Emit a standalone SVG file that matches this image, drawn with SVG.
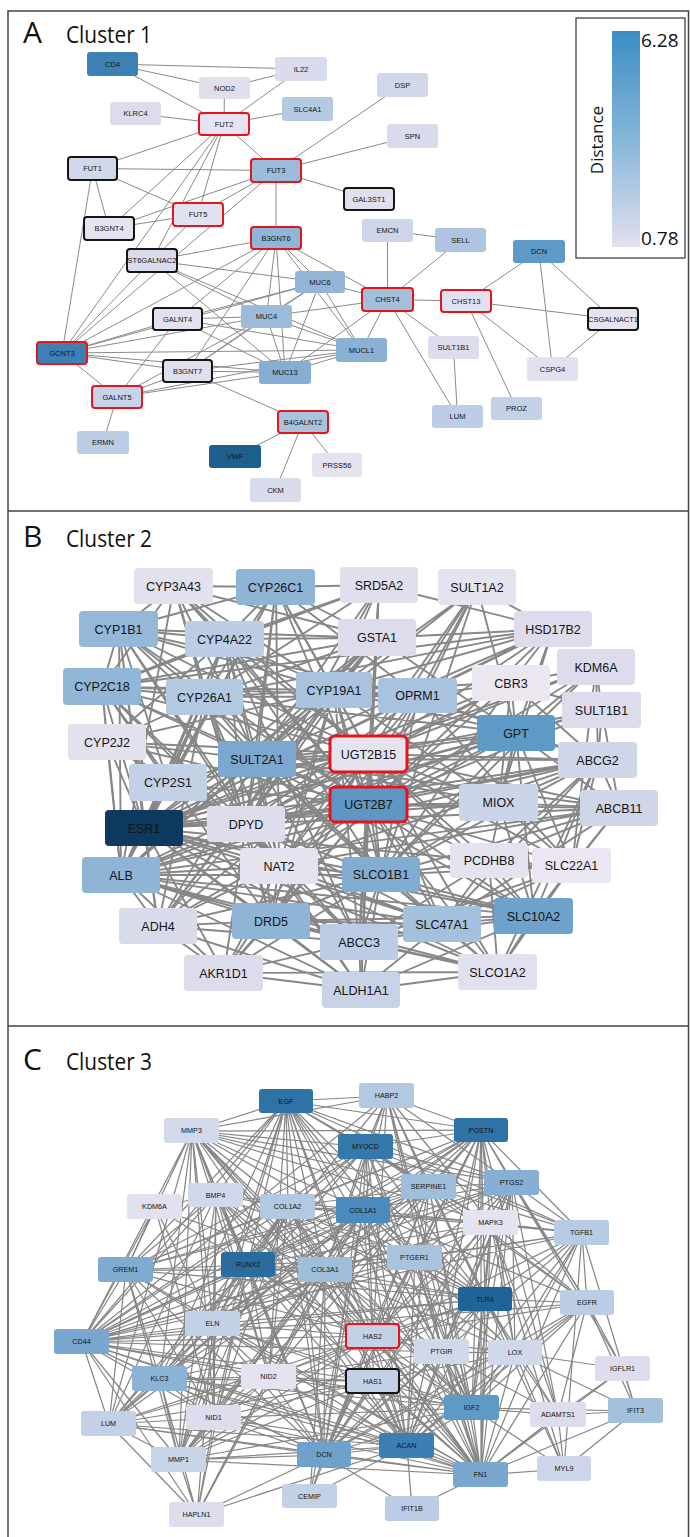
<svg xmlns="http://www.w3.org/2000/svg" width="690" height="1537" viewBox="0 0 690 1537">
<defs>
<linearGradient id="lg" x1="0" y1="0" x2="0" y2="1">
<stop offset="0" stop-color="#3a8ec4"/>
<stop offset="0.5" stop-color="#86b6d9"/>
<stop offset="1" stop-color="#e2e0ee"/>
</linearGradient>
<style>
.e{stroke:#8a8a8a;fill:none}
.ea{stroke-width:1}
.eb{stroke-width:1.9;stroke:#878787}
.ec{stroke-width:1.25;stroke:#878787}
.t{font-family:"Liberation Sans",Arial,sans-serif;fill:#141414;text-anchor:middle}
.ta{font-size:7.5px}
.tb{font-size:12.5px}
.tc{font-size:7.2px}
.red{stroke:#e8141b;stroke-width:2}
.blk{stroke:#151515;stroke-width:2}
.redb{stroke:#e8141b;stroke-width:3}
.ttl{font-family:"Open Sans","Liberation Sans",sans-serif;fill:#111}
.frame{stroke:#444;stroke-width:1.5;fill:none}
</style>
</defs>
<rect width="690" height="1537" fill="#fff"/>
<g id="frame">
<path class="frame" d="M8 1537V11H688.5V1537M8 511H688.5M8 1026H688.5"/>
</g>
<g id="titles">
<text class="ttl" x="23" y="43" font-size="30">A</text>
<text class="ttl" x="66" y="43" font-size="24" textLength="86" lengthAdjust="spacingAndGlyphs">Cluster 1</text>
<text class="ttl" x="23" y="547" font-size="30">B</text>
<text class="ttl" x="66" y="547" font-size="24" textLength="86" lengthAdjust="spacingAndGlyphs">Cluster 2</text>
<text class="ttl" x="23" y="1070" font-size="30">C</text>
<text class="ttl" x="66" y="1070" font-size="24" textLength="86" lengthAdjust="spacingAndGlyphs">Cluster 3</text>
</g>
<g id="legend">
<rect x="576" y="18" width="109" height="240" fill="#fff" stroke="#333" stroke-width="1.2"/>
<rect x="612" y="31" width="28" height="216" fill="url(#lg)"/>
<text class="ttl" x="641" y="47" font-size="19">6.28</text>
<text class="ttl" x="641" y="245" font-size="19">0.78</text>
<text class="ttl" x="603" y="140" font-size="17" text-anchor="middle" transform="rotate(-90 603 140)">Distance</text>
</g>
<g id="connectors">
<path class="e ea" d="M112.5 64L301 69M112.5 64L224.5 88M112.5 64L224 124M224.5 88L301 69M224.5 88L224 124M301 69L224 124M135.5 113.5L224 124M307.5 109L224 124M224 124L92.5 168.5M224 124L276 170.5M224 124L198 214.5M224 124L109 228.5M224 124L62 353M224 124L152 260.5M276 170.5L402.5 85M276 170.5L412.5 136M276 170.5L369 199M276 170.5L92.5 168.5M276 170.5L276 238M276 170.5L198 214.5M276 170.5L109 228.5M276 170.5L62 353M92.5 168.5L109 228.5M92.5 168.5L198 214.5M92.5 168.5L62 353M109 228.5L198 214.5M198 214.5L152 260.5M62 353L152 260.5M62 353L177.5 319M62 353L266.5 316.5M62 353L320 282M62 353L361.5 350M62 353L285 372.5M62 353L187.5 371M62 353L117 397M62 353L276 238M152 260.5L276 238M152 260.5L320 282M152 260.5L266.5 316.5M152 260.5L285 372.5M152 260.5L361.5 350M177.5 319L276 238M177.5 319L320 282M177.5 319L266.5 316.5M177.5 319L285 372.5M177.5 319L361.5 350M177.5 319L117 397M187.5 371L266.5 316.5M187.5 371L320 282M187.5 371L285 372.5M187.5 371L361.5 350M187.5 371L117 397M187.5 371L303 422M187.5 371L276 238M117 397L285 372.5M117 397L361.5 350M117 397L266.5 316.5M117 397L103 442.5M266.5 316.5L320 282M266.5 316.5L285 372.5M266.5 316.5L361.5 350M266.5 316.5L276 238M266.5 316.5L387.5 299.5M320 282L285 372.5M320 282L361.5 350M320 282L276 238M320 282L387.5 299.5M285 372.5L361.5 350M285 372.5L276 238M285 372.5L387.5 299.5M361.5 350L387.5 299.5M361.5 350L276 238M276 238L387.5 299.5M303 422L235 456.5M303 422L275.5 490M303 422L337 465M387.5 299.5L387.5 230.5M387.5 299.5L460.5 240M387.5 299.5L466 301M387.5 299.5L453.5 347.5M387.5 299.5L457.5 416.5M453.5 347.5L457.5 416.5M466 301L539 251.5M466 301L613 319M466 301L552.5 369M466 301L516.5 408.5M539 251.5L613 319M539 251.5L552.5 369M613 319L552.5 369M387.5 230.5L460.5 240"/>
<path class="e eb" d="M369 805L174 586M369 805L276 587M369 805L379 585M369 805L477 587M369 805L119 629M369 805L225 639M369 805L377 638M369 805L553 629M369 805L596 667M369 805L102 687M369 805L205 697M369 805L334 690M369 805L418 696M369 805L511 683M369 805L602 710M369 805L107 742M369 805L257 759M369 805L369 754M369 805L516 733M369 805L598 760M369 805L168 783M369 805L499 803M369 805L619 808M369 805L144 828M369 805L246 824M369 805L279 866M369 805L121 875M369 805L381 875M369 805L489 861M369 805L572 866M369 805L158 926M369 805L271 921M369 805L442 924M369 805L534 916M369 805L359 942M369 805L224 973M369 805L361 990M369 805L498 972"/>
<path class="e eb" d="M369 754L174 586M369 754L276 587M369 754L379 585M369 754L477 587M369 754L119 629M369 754L225 639M369 754L377 638M369 754L553 629M369 754L596 667M369 754L102 687M369 754L205 697M369 754L334 690M369 754L418 696M369 754L511 683M369 754L602 710M369 754L107 742M369 754L257 759M369 754L516 733M369 754L598 760M369 754L168 783M369 754L499 803M369 754L619 808M369 754L144 828M369 754L246 824M369 754L279 866M369 754L121 875M369 754L381 875M369 754L489 861M369 754L572 866M369 754L158 926M369 754L271 921M369 754L442 924M369 754L534 916M369 754L359 942M369 754L224 973M369 754L361 990M369 754L498 972"/>
<path class="e eb" d="M174 586L276 587M174 586L119 629M174 586L225 639M174 586L205 697M174 586L102 687M174 586L334 690M174 586L257 759M174 586L246 824M174 586L121 875M174 586L377 638M276 587L379 585M276 587L119 629M276 587L225 639M276 587L205 697M276 587L334 690M276 587L257 759M276 587L377 638M276 587L246 824M276 587L279 866M276 587L168 783M276 587L418 696M276 587L121 875M379 585L553 629M379 585L377 638M379 585L225 639M379 585L205 697M379 585L257 759M379 585L334 690M379 585L102 687M379 585L246 824M477 587L553 629M477 587L257 759M477 587L381 875M477 587L334 690M477 587L418 696M477 587L279 866M477 587L516 733"/>
<path class="e eb" d="M119 629L225 639M119 629L102 687M119 629L205 697M119 629L334 690M119 629L377 638M119 629L257 759M119 629L144 828M119 629L121 875M119 629L246 824M119 629L168 783M119 629L279 866M119 629L158 926M119 629L418 696M225 639L102 687M225 639L205 697M225 639L334 690M225 639L377 638M225 639L257 759M225 639L144 828M225 639L246 824M225 639L107 742M225 639L121 875M225 639L279 866M225 639L381 875M225 639L359 942M377 638L553 629M377 638L334 690M377 638L257 759M377 638L144 828M377 638L246 824M377 638L102 687M377 638L205 697M377 638L121 875M377 638L158 926M377 638L516 733M553 629L511 683M553 629L516 733M553 629L257 759M553 629L334 690M553 629L418 696M553 629L144 828M553 629L205 697M553 629L102 687M553 629L499 803M596 667L602 710M596 667L511 683M596 667L516 733M596 667L598 760M596 667L381 875M596 667L572 866M596 667L144 828"/>
<path class="e eb" d="M102 687L205 697M102 687L107 742M102 687L334 690M102 687L257 759M102 687L144 828M102 687L246 824M102 687L121 875M102 687L168 783M102 687L279 866M102 687L271 921M102 687L418 696M205 697L334 690M205 697L257 759M205 697L144 828M205 697L246 824M205 697L121 875M205 697L107 742M205 697L279 866M205 697L158 926M205 697L271 921M205 697L381 875M205 697L168 783M205 697L418 696M205 697L516 733M334 690L257 759M334 690L144 828M334 690L246 824M334 690L279 866M334 690L121 875M334 690L418 696M334 690L381 875M334 690L271 921M334 690L359 942M334 690L516 733M334 690L499 803M334 690L158 926M334 690L107 742M334 690L511 683M418 696L271 921M418 696L381 875M418 696L516 733M418 696L511 683M418 696L144 828M418 696L572 866M418 696L598 760M418 696L246 824M511 683L516 733M511 683L602 710M511 683L598 760M511 683L144 828M511 683L381 875M511 683L499 803M511 683L246 824M602 710L516 733M602 710L598 760M602 710L144 828M602 710L619 808"/>
<path class="e eb" d="M107 742L257 759M107 742L144 828M107 742L121 875M107 742L168 783M107 742L246 824M257 759L144 828M257 759L246 824M257 759L279 866M257 759L121 875M257 759L381 875M257 759L516 733M257 759L598 760M257 759L499 803M257 759L619 808M257 759L271 921M257 759L158 926M257 759L442 924M257 759L534 916M257 759L359 942M257 759L168 783M516 733L598 760M516 733L499 803M516 733L144 828M516 733L381 875M516 733L619 808M516 733L572 866M516 733L534 916M516 733L121 875M516 733L246 824M516 733L489 861M516 733L279 866M598 760L619 808M598 760L144 828M598 760L499 803M598 760L381 875M598 760L572 866M598 760L534 916M598 760L489 861M598 760L442 924M598 760L498 972M598 760L121 875M598 760L279 866M598 760L246 824M168 783L144 828M168 783L246 824M168 783L121 875M499 803L619 808M499 803L381 875M499 803L572 866M499 803L534 916M499 803L144 828"/>
<path class="e eb" d="M619 808L572 866M619 808L534 916M619 808L381 875M619 808L442 924M619 808L144 828M619 808L489 861M619 808L246 824M619 808L121 875M619 808L279 866M144 828L246 824M144 828L121 875M144 828L279 866M144 828L381 875M144 828L158 926M144 828L271 921M144 828L224 973M144 828L359 942M144 828L442 924M144 828L489 861M144 828L361 990M144 828L498 972M144 828L534 916M246 824L279 866M246 824L121 875M246 824L381 875M246 824L158 926M246 824L271 921M246 824L224 973M246 824L359 942M246 824L361 990M246 824L442 924M279 866L121 875M279 866L381 875M279 866L158 926M279 866L271 921M279 866L224 973M279 866L442 924M279 866L359 942M279 866L361 990M279 866L534 916M279 866L498 972M121 875L158 926M121 875L271 921M121 875L381 875M121 875L224 973M121 875L359 942M121 875L361 990M121 875L442 924M121 875L534 916M121 875L498 972"/>
<path class="e eb" d="M381 875L442 924M381 875L534 916M381 875L359 942M381 875L361 990M381 875L498 972M381 875L489 861M381 875L572 866M381 875L271 921M381 875L224 973M381 875L158 926M489 861L572 866M489 861L534 916M489 861L442 924M489 861L498 972M489 861L359 942M572 866L534 916M572 866L442 924M572 866L498 972M572 866L359 942M158 926L271 921M158 926L224 973M158 926L359 942M158 926L361 990M271 921L224 973M271 921L359 942M271 921L361 990M271 921L442 924M271 921L534 916M271 921L498 972M442 924L534 916M442 924L498 972M442 924L359 942M442 924L361 990M534 916L498 972M534 916L359 942M534 916L361 990M359 942L224 973M359 942L361 990M359 942L498 972M224 973L361 990M224 973L498 972M361 990L498 972"/>
<path class="e ec" d="M481 1475L286 1101M481 1475L387 1096M481 1475L192 1131M481 1475L481 1130M481 1475L366 1147M481 1475L429 1187M481 1475L512 1183M481 1475L216 1195M481 1475L288 1207M481 1475L363 1210M481 1475L491 1223M481 1475L582 1233M481 1475L415 1258M481 1475L248 1265M481 1475L325 1270M481 1475L485 1299M481 1475L587 1303M481 1475L213 1324M481 1475L373 1336M481 1475L82 1342M481 1475L442 1352M481 1475L515 1353M481 1475L623 1369M481 1475L160 1379M481 1475L269 1377M481 1475L373 1381M481 1475L472 1408M481 1475L558 1415M481 1475L636 1411M481 1475L214 1418M481 1475L109 1424M481 1475L407 1446M481 1475L324 1455M481 1475L179 1460M481 1475L564 1469M481 1475L412 1509M481 1475L126 1270"/>
<path class="e ec" d="M286 1101L192 1131M286 1101L387 1096M286 1101L481 1130M286 1101L366 1147M286 1101L429 1187M286 1101L512 1183M286 1101L216 1195M286 1101L288 1207M286 1101L363 1210M286 1101L491 1223M286 1101L582 1233M286 1101L248 1265M286 1101L325 1270M286 1101L485 1299M286 1101L213 1324M286 1101L373 1336M286 1101L82 1342M286 1101L160 1379M286 1101L269 1377M286 1101L472 1408M286 1101L324 1455M286 1101L407 1446M286 1101L179 1460M286 1101L126 1270M286 1101L415 1258"/>
<path class="e ec" d="M192 1131L481 1130M192 1131L366 1147M192 1131L387 1096M192 1131L429 1187M192 1131L216 1195M192 1131L288 1207M192 1131L363 1210M192 1131L248 1265M192 1131L325 1270M192 1131L485 1299M192 1131L213 1324M192 1131L373 1336M192 1131L82 1342M192 1131L160 1379M192 1131L269 1377M192 1131L214 1418M192 1131L472 1408M192 1131L324 1455M192 1131L407 1446M192 1131L179 1460M192 1131L126 1270M192 1131L512 1183M192 1131L491 1223M192 1131L109 1424"/>
<path class="e ec" d="M481 1130L387 1096M481 1130L366 1147M481 1130L429 1187M481 1130L512 1183M481 1130L288 1207M481 1130L363 1210M481 1130L491 1223M481 1130L582 1233M481 1130L415 1258M481 1130L248 1265M481 1130L325 1270M481 1130L485 1299M481 1130L587 1303M481 1130L213 1324M481 1130L373 1336M481 1130L82 1342M481 1130L442 1352M481 1130L515 1353M481 1130L269 1377M481 1130L472 1408M481 1130L324 1455M481 1130L407 1446M481 1130L179 1460M481 1130L126 1270M481 1130L558 1415"/>
<path class="e ec" d="M387 1096L366 1147M387 1096L363 1210M387 1096L429 1187M387 1096L512 1183M387 1096L491 1223M387 1096L485 1299M387 1096L373 1336M387 1096L442 1352M387 1096L472 1408M387 1096L82 1342M387 1096L248 1265M387 1096L325 1270M366 1147L429 1187M366 1147L363 1210M366 1147L288 1207M366 1147L248 1265M366 1147L325 1270M366 1147L512 1183M366 1147L491 1223M366 1147L485 1299M366 1147L373 1336M366 1147L213 1324M366 1147L82 1342M366 1147L126 1270M366 1147L324 1455M366 1147L407 1446M366 1147L472 1408M366 1147L587 1303M366 1147L582 1233"/>
<path class="e ec" d="M429 1187L512 1183M429 1187L363 1210M429 1187L288 1207M429 1187L491 1223M429 1187L582 1233M429 1187L415 1258M429 1187L248 1265M429 1187L325 1270M429 1187L485 1299M429 1187L587 1303M429 1187L373 1336M429 1187L213 1324M429 1187L82 1342M429 1187L515 1353M429 1187L324 1455M429 1187L407 1446M429 1187L472 1408M429 1187L126 1270M512 1183L363 1210M512 1183L491 1223M512 1183L582 1233M512 1183L415 1258M512 1183L485 1299M512 1183L587 1303M512 1183L515 1353M512 1183L442 1352M512 1183L373 1336M512 1183L472 1408M512 1183L558 1415M512 1183L324 1455M512 1183L407 1446M512 1183L248 1265M512 1183L325 1270M512 1183L82 1342M512 1183L623 1369"/>
<path class="e ec" d="M216 1195L155 1207M216 1195L288 1207M216 1195L363 1210M216 1195L248 1265M216 1195L325 1270M216 1195L126 1270M216 1195L213 1324M216 1195L82 1342M216 1195L269 1377M216 1195L214 1418M216 1195L324 1455M216 1195L407 1446M216 1195L179 1460M216 1195L373 1336M216 1195L485 1299M216 1195L109 1424M155 1207L126 1270M155 1207L82 1342M155 1207L248 1265M155 1207L214 1418M155 1207L213 1324M155 1207L325 1270"/>
<path class="e ec" d="M288 1207L363 1210M288 1207L248 1265M288 1207L325 1270M288 1207L491 1223M288 1207L582 1233M288 1207L415 1258M288 1207L485 1299M288 1207L213 1324M288 1207L373 1336M288 1207L82 1342M288 1207L269 1377M288 1207L214 1418M288 1207L324 1455M288 1207L407 1446M288 1207L179 1460M288 1207L472 1408M288 1207L515 1353M288 1207L126 1270M288 1207L160 1379M288 1207L109 1424M363 1210L491 1223M363 1210L582 1233M363 1210L415 1258M363 1210L248 1265M363 1210L325 1270M363 1210L485 1299M363 1210L587 1303M363 1210L213 1324M363 1210L373 1336M363 1210L82 1342M363 1210L442 1352M363 1210L515 1353M363 1210L269 1377M363 1210L214 1418M363 1210L472 1408M363 1210L324 1455M363 1210L407 1446M363 1210L179 1460M363 1210L160 1379M363 1210L109 1424M363 1210L126 1270M363 1210L197 1515M363 1210L310 1496"/>
<path class="e ec" d="M491 1223L582 1233M491 1223L415 1258M491 1223L485 1299M491 1223L587 1303M491 1223L442 1352M491 1223L515 1353M491 1223L373 1336M491 1223L472 1408M491 1223L324 1455M491 1223L407 1446M491 1223L248 1265M491 1223L325 1270M491 1223L82 1342M491 1223L564 1469M491 1223L558 1415M582 1233L485 1299M582 1233L587 1303M582 1233L515 1353M582 1233L472 1408M582 1233L324 1455M582 1233L407 1446M582 1233L325 1270M582 1233L415 1258M582 1233L636 1411M582 1233L373 1336M582 1233L82 1342M582 1233L564 1469M415 1258L485 1299M415 1258L442 1352M415 1258L373 1336M415 1258L472 1408M415 1258L325 1270M415 1258L248 1265M415 1258L324 1455M415 1258L407 1446M415 1258L515 1353M415 1258L213 1324M415 1258L82 1342"/>
<path class="e ec" d="M126 1270L248 1265M126 1270L325 1270M126 1270L82 1342M126 1270L213 1324M126 1270L160 1379M126 1270L214 1418M126 1270L109 1424M126 1270L324 1455M126 1270L373 1336M126 1270L485 1299M126 1270L179 1460M248 1265L325 1270M248 1265L485 1299M248 1265L213 1324M248 1265L373 1336M248 1265L82 1342M248 1265L160 1379M248 1265L269 1377M248 1265L214 1418M248 1265L324 1455M248 1265L407 1446M248 1265L179 1460M248 1265L109 1424M248 1265L472 1408M248 1265L197 1515M325 1270L485 1299M325 1270L213 1324M325 1270L373 1336M325 1270L82 1342M325 1270L160 1379M325 1270L269 1377M325 1270L214 1418M325 1270L324 1455M325 1270L407 1446M325 1270L179 1460M325 1270L472 1408M325 1270L109 1424M325 1270L197 1515M325 1270L310 1496M325 1270L515 1353M325 1270L442 1352"/>
<path class="e ec" d="M485 1299L587 1303M485 1299L373 1336M485 1299L442 1352M485 1299L515 1353M485 1299L472 1408M485 1299L407 1446M485 1299L324 1455M485 1299L82 1342M485 1299L213 1324M485 1299L269 1377M485 1299L179 1460M485 1299L558 1415M485 1299L564 1469M587 1303L515 1353M587 1303L472 1408M587 1303L558 1415M587 1303L636 1411M587 1303L324 1455M587 1303L407 1446M587 1303L373 1336M587 1303L82 1342M587 1303L623 1369M213 1324L82 1342M213 1324L160 1379M213 1324L269 1377M213 1324L214 1418M213 1324L373 1336M213 1324L324 1455M213 1324L407 1446M213 1324L179 1460M213 1324L109 1424M213 1324L197 1515M213 1324L472 1408M213 1324L373 1381"/>
<path class="e ec" d="M373 1336L82 1342M373 1336L442 1352M373 1336L515 1353M373 1336L373 1381M373 1336L472 1408M373 1336L324 1455M373 1336L407 1446M373 1336L269 1377M373 1336L214 1418M373 1336L160 1379M373 1336L179 1460M373 1336L109 1424M373 1336L310 1496M82 1342L160 1379M82 1342L269 1377M82 1342L214 1418M82 1342L109 1424M82 1342L324 1455M82 1342L407 1446M82 1342L179 1460M82 1342L373 1381M82 1342L197 1515M82 1342L472 1408M82 1342L442 1352M442 1352L515 1353M442 1352L472 1408M442 1352L407 1446M442 1352L324 1455M442 1352L373 1381M442 1352L269 1377M442 1352L558 1415M515 1353L623 1369M515 1353L472 1408M515 1353L558 1415M515 1353L636 1411M515 1353L324 1455M515 1353L407 1446M515 1353L564 1469M515 1353L373 1381M623 1369L636 1411M623 1369L558 1415"/>
<path class="e ec" d="M160 1379L269 1377M160 1379L214 1418M160 1379L109 1424M160 1379L324 1455M160 1379L407 1446M160 1379L179 1460M160 1379L373 1381M160 1379L472 1408M160 1379L197 1515M269 1377L214 1418M269 1377L324 1455M269 1377L407 1446M269 1377L373 1381M269 1377L179 1460M269 1377L472 1408M269 1377L109 1424M269 1377L197 1515M373 1381L472 1408M373 1381L324 1455M373 1381L407 1446M373 1381L214 1418M373 1381L179 1460M373 1381L109 1424M472 1408L324 1455M472 1408L407 1446M472 1408L558 1415M472 1408L214 1418M472 1408L179 1460M472 1408L564 1469M472 1408L636 1411M558 1415L636 1411M558 1415L564 1469M636 1411L564 1469M214 1418L109 1424M214 1418L179 1460M214 1418L324 1455M214 1418L407 1446M214 1418L197 1515M109 1424L179 1460M109 1424L197 1515M109 1424L324 1455M109 1424L407 1446M407 1446L324 1455M407 1446L412 1509M407 1446L179 1460M407 1446L197 1515M407 1446L310 1496M324 1455L179 1460M324 1455L310 1496M324 1455L197 1515M324 1455L412 1509M179 1460L197 1515"/>
</g>
<g id="nodes-a">
<g id="a-CD4"><rect x="87" y="52" width="51" height="24" rx="3" fill="#3d80b3"/><text class="t ta" x="112.5" y="66.7">CD4</text></g>
<g id="a-IL22"><rect x="275" y="57" width="52" height="24" rx="3" fill="#d9dcec"/><text class="t ta" x="301" y="71.7">IL22</text></g>
<g id="a-NOD2"><rect x="199" y="77" width="51" height="22" rx="3" fill="#dfdfee"/><text class="t ta" x="224.5" y="90.7">NOD2</text></g>
<g id="a-KLRC4"><rect x="110" y="102" width="51" height="23" rx="3" fill="#dcdcec"/><text class="t ta" x="135.5" y="116.2">KLRC4</text></g>
<g id="a-SLC4A1"><rect x="282" y="97" width="51" height="24" rx="3" fill="#b4c9e2"/><text class="t ta" x="307.5" y="111.7">SLC4A1</text></g>
<g id="a-FUT2"><rect class="red" x="199" y="113" width="50" height="22" rx="3" fill="#e6e4f0"/><text class="t ta" x="224" y="126.7">FUT2</text></g>
<g id="a-DSP"><rect x="377" y="73" width="51" height="24" rx="3" fill="#d2d8ea"/><text class="t ta" x="402.5" y="87.7">DSP</text></g>
<g id="a-SPN"><rect x="387" y="124" width="51" height="24" rx="3" fill="#d7dbeb"/><text class="t ta" x="412.5" y="138.7">SPN</text></g>
<g id="a-FUT1"><rect class="blk" x="68" y="157" width="49" height="23" rx="3" fill="#d0d8ea"/><text class="t ta" x="92.5" y="171.2">FUT1</text></g>
<g id="a-FUT3"><rect class="red" x="251" y="159" width="50" height="23" rx="3" fill="#9bbcdb"/><text class="t ta" x="276" y="173.2">FUT3</text></g>
<g id="a-GAL3ST1"><rect class="blk" x="344" y="188" width="50" height="22" rx="3" fill="#e0dfee"/><text class="t ta" x="369" y="201.7">GAL3ST1</text></g>
<g id="a-FUT5"><rect class="red" x="173" y="203" width="50" height="23" rx="3" fill="#e2e1ef"/><text class="t ta" x="198" y="217.2">FUT5</text></g>
<g id="a-B3GNT4"><rect class="blk" x="84" y="217" width="50" height="23" rx="3" fill="#e4e3ef"/><text class="t ta" x="109" y="231.2">B3GNT4</text></g>
<g id="a-EMCN"><rect x="362" y="219" width="51" height="23" rx="3" fill="#cdd6e9"/><text class="t ta" x="387.5" y="233.2">EMCN</text></g>
<g id="a-SELL"><rect x="435" y="228" width="51" height="24" rx="3" fill="#adc5e0"/><text class="t ta" x="460.5" y="242.7">SELL</text></g>
<g id="a-B3GNT6"><rect class="red" x="251" y="227" width="50" height="22" rx="3" fill="#8fb5d8"/><text class="t ta" x="276" y="240.7">B3GNT6</text></g>
<g id="a-DCN"><rect x="513" y="240" width="52" height="23" rx="3" fill="#5e9ac8"/><text class="t ta" x="539" y="254.2">DCN</text></g>
<g id="a-ST6GALNAC2"><rect class="blk" x="127" y="249" width="50" height="23" rx="3" fill="#d8dbeb"/><text class="t ta" x="152" y="263.2">ST6GALNAC2</text></g>
<g id="a-MUC6"><rect x="295" y="271" width="50" height="22" rx="3" fill="#93b6d8"/><text class="t ta" x="320" y="284.7">MUC6</text></g>
<g id="a-CHST4"><rect class="red" x="362" y="288" width="51" height="23" rx="3" fill="#a2bfdc"/><text class="t ta" x="387.5" y="302.2">CHST4</text></g>
<g id="a-CHST13"><rect class="red" x="441" y="290" width="50" height="22" rx="3" fill="#e2e1ef"/><text class="t ta" x="466" y="303.7">CHST13</text></g>
<g id="a-GALNT4"><rect class="blk" x="153" y="308" width="49" height="22" rx="3" fill="#e2e1ef"/><text class="t ta" x="177.5" y="321.7">GALNT4</text></g>
<g id="a-MUC4"><rect x="241" y="305" width="51" height="23" rx="3" fill="#9cbbda"/><text class="t ta" x="266.5" y="319.2">MUC4</text></g>
<g id="a-CSGALNACT1"><rect class="blk" x="588" y="308" width="50" height="22" rx="3" fill="#e4e3ef"/><text class="t ta" x="613" y="321.7">CSGALNACT1</text></g>
<g id="a-MUCL1"><rect x="336" y="338" width="51" height="24" rx="3" fill="#8ab0d4"/><text class="t ta" x="361.5" y="352.7">MUCL1</text></g>
<g id="a-SULT1B1"><rect x="428" y="336" width="51" height="23" rx="3" fill="#dcdcec"/><text class="t ta" x="453.5" y="350.2">SULT1B1</text></g>
<g id="a-GCNT3"><rect class="red" x="37" y="342" width="50" height="22" rx="3" fill="#3f80b4"/><text class="t ta" x="62" y="355.7">GCNT3</text></g>
<g id="a-B3GNT7"><rect class="blk" x="163" y="360" width="49" height="22" rx="3" fill="#dfdfee"/><text class="t ta" x="187.5" y="373.7">B3GNT7</text></g>
<g id="a-MUC13"><rect x="259" y="361" width="52" height="23" rx="3" fill="#86add3"/><text class="t ta" x="285" y="375.2">MUC13</text></g>
<g id="a-CSPG4"><rect x="527" y="357" width="51" height="24" rx="3" fill="#e2e1ef"/><text class="t ta" x="552.5" y="371.7">CSPG4</text></g>
<g id="a-GALNT5"><rect class="red" x="92" y="386" width="50" height="22" rx="3" fill="#c7d3e8"/><text class="t ta" x="117" y="399.7">GALNT5</text></g>
<g id="a-PROZ"><rect x="491" y="397" width="51" height="23" rx="3" fill="#c3d1e6"/><text class="t ta" x="516.5" y="411.2">PROZ</text></g>
<g id="a-LUM"><rect x="432" y="405" width="51" height="23" rx="3" fill="#bccde5"/><text class="t ta" x="457.5" y="419.2">LUM</text></g>
<g id="a-B4GALNT2"><rect class="red" x="278" y="411" width="50" height="22" rx="3" fill="#a8c3de"/><text class="t ta" x="303" y="424.7">B4GALNT2</text></g>
<g id="a-ERMN"><rect x="77" y="431" width="52" height="23" rx="3" fill="#bccde5"/><text class="t ta" x="103" y="445.2">ERMN</text></g>
<g id="a-VWF"><rect x="209" y="445" width="52" height="23" rx="3" fill="#1f5f8f"/><text class="t ta" x="235" y="459.2">VWF</text></g>
<g id="a-PRSS56"><rect x="312" y="453" width="50" height="24" rx="3" fill="#e4e3ef"/><text class="t ta" x="337" y="467.7">PRSS56</text></g>
<g id="a-CKM"><rect x="250" y="478" width="51" height="24" rx="3" fill="#d8dbeb"/><text class="t ta" x="275.5" y="492.7">CKM</text></g>
</g>
<g id="nodes-b">
<g id="b-CYP3A43"><rect x="134" y="568" width="79" height="36" rx="4" fill="#e2e1ee"/><text class="t tb" x="173.5" y="590.5">CYP3A43</text></g>
<g id="b-CYP26C1"><rect x="236" y="569" width="79" height="36" rx="4" fill="#8fb4d6"/><text class="t tb" x="275.5" y="591.5">CYP26C1</text></g>
<g id="b-SRD5A2"><rect x="340" y="567" width="78" height="36" rx="4" fill="#e0dfee"/><text class="t tb" x="379" y="589.5">SRD5A2</text></g>
<g id="b-SULT1A2"><rect x="438" y="569" width="78" height="36" rx="4" fill="#e4e3ef"/><text class="t tb" x="477" y="591.5">SULT1A2</text></g>
<g id="b-CYP1B1"><rect x="79" y="611" width="79" height="36" rx="4" fill="#96b8d8"/><text class="t tb" x="118.5" y="633.5">CYP1B1</text></g>
<g id="b-CYP4A22"><rect x="185" y="621" width="79" height="36" rx="4" fill="#bccde5"/><text class="t tb" x="224.5" y="643.5">CYP4A22</text></g>
<g id="b-GSTA1"><rect x="338" y="619" width="78" height="37" rx="4" fill="#dcdcec"/><text class="t tb" x="377" y="642">GSTA1</text></g>
<g id="b-HSD17B2"><rect x="514" y="611" width="78" height="36" rx="4" fill="#dcdcec"/><text class="t tb" x="553" y="633.5">HSD17B2</text></g>
<g id="b-KDM6A"><rect x="557" y="649" width="78" height="36" rx="4" fill="#dcdcec"/><text class="t tb" x="596" y="671.5">KDM6A</text></g>
<g id="b-CYP2C18"><rect x="63" y="668" width="78" height="37" rx="4" fill="#92b6d7"/><text class="t tb" x="102" y="691">CYP2C18</text></g>
<g id="b-CYP26A1"><rect x="166" y="679" width="77" height="36" rx="4" fill="#b3c8e1"/><text class="t tb" x="204.5" y="701.5">CYP26A1</text></g>
<g id="b-CYP19A1"><rect x="296" y="672" width="76" height="36" rx="4" fill="#a9c3de"/><text class="t tb" x="334" y="694.5">CYP19A1</text></g>
<g id="b-OPRM1"><rect x="378" y="678" width="79" height="35" rx="4" fill="#a9c3de"/><text class="t tb" x="417.5" y="700">OPRM1</text></g>
<g id="b-CBR3"><rect x="472" y="665" width="78" height="36" rx="4" fill="#ece6f1"/><text class="t tb" x="511" y="687.5">CBR3</text></g>
<g id="b-SULT1B1"><rect x="562" y="692" width="79" height="36" rx="4" fill="#dcdcec"/><text class="t tb" x="601.5" y="714.5">SULT1B1</text></g>
<g id="b-CYP2J2"><rect x="68" y="724" width="78" height="36" rx="4" fill="#e2e1ee"/><text class="t tb" x="107" y="746.5">CYP2J2</text></g>
<g id="b-SULT2A1"><rect x="218" y="741" width="78" height="36" rx="4" fill="#7ca8cf"/><text class="t tb" x="257" y="763.5">SULT2A1</text></g>
<g id="b-UGT2B15"><rect class="redb" x="330" y="736" width="77" height="36" rx="5" fill="#e4e3ef"/><text class="t tb" x="368.5" y="758.5">UGT2B15</text></g>
<g id="b-GPT"><rect x="477" y="715" width="78" height="36" rx="4" fill="#5e9ac6"/><text class="t tb" x="516" y="737.5">GPT</text></g>
<g id="b-ABCG2"><rect x="558" y="742" width="79" height="36" rx="4" fill="#cfd6e8"/><text class="t tb" x="597.5" y="764.5">ABCG2</text></g>
<g id="b-CYP2S1"><rect x="129" y="764" width="78" height="37" rx="4" fill="#c3d1e6"/><text class="t tb" x="168" y="787">CYP2S1</text></g>
<g id="b-UGT2B7"><rect class="redb" x="330" y="787" width="77" height="35" rx="5" fill="#5f97c4"/><text class="t tb" x="368.5" y="809">UGT2B7</text></g>
<g id="b-MIOX"><rect x="459" y="784" width="79" height="37" rx="4" fill="#ccd5e8"/><text class="t tb" x="498.5" y="807">MIOX</text></g>
<g id="b-ABCB11"><rect x="580" y="790" width="78" height="36" rx="4" fill="#cfd6e7"/><text class="t tb" x="619" y="812.5">ABCB11</text></g>
<g id="b-ESR1"><rect x="105" y="810" width="78" height="36" rx="4" fill="#0e3a5f"/><text class="t tb" x="144" y="832.5">ESR1</text></g>
<g id="b-DPYD"><rect x="207" y="806" width="78" height="36" rx="4" fill="#dedded"/><text class="t tb" x="246" y="828.5">DPYD</text></g>
<g id="b-NAT2"><rect x="240" y="848" width="78" height="36" rx="4" fill="#e4e3ef"/><text class="t tb" x="279" y="870.5">NAT2</text></g>
<g id="b-ALB"><rect x="82" y="857" width="78" height="36" rx="4" fill="#8fb4d6"/><text class="t tb" x="121" y="879.5">ALB</text></g>
<g id="b-SLCO1B1"><rect x="342" y="857" width="78" height="35" rx="4" fill="#83acd2"/><text class="t tb" x="381" y="879">SLCO1B1</text></g>
<g id="b-PCDHB8"><rect x="450" y="843" width="78" height="35" rx="4" fill="#e4e3ef"/><text class="t tb" x="489" y="865">PCDHB8</text></g>
<g id="b-SLC22A1"><rect x="532" y="848" width="79" height="35" rx="4" fill="#ebe6f1"/><text class="t tb" x="571.5" y="870">SLC22A1</text></g>
<g id="b-ADH4"><rect x="119" y="908" width="78" height="36" rx="4" fill="#d8dbea"/><text class="t tb" x="158" y="930.5">ADH4</text></g>
<g id="b-DRD5"><rect x="232" y="903" width="78" height="36" rx="4" fill="#8fb4d6"/><text class="t tb" x="271" y="925.5">DRD5</text></g>
<g id="b-SLC47A1"><rect x="403" y="906" width="78" height="36" rx="4" fill="#a3c0dd"/><text class="t tb" x="442" y="928.5">SLC47A1</text></g>
<g id="b-SLC10A2"><rect x="494" y="898" width="79" height="36" rx="4" fill="#6ea2cc"/><text class="t tb" x="533.5" y="920.5">SLC10A2</text></g>
<g id="b-ABCC3"><rect x="320" y="924" width="78" height="36" rx="4" fill="#bccce4"/><text class="t tb" x="359" y="946.5">ABCC3</text></g>
<g id="b-AKR1D1"><rect x="184" y="955" width="79" height="36" rx="4" fill="#dcdcec"/><text class="t tb" x="223.5" y="977.5">AKR1D1</text></g>
<g id="b-ALDH1A1"><rect x="322" y="972" width="78" height="36" rx="4" fill="#c9d3e7"/><text class="t tb" x="361" y="994.5">ALDH1A1</text></g>
<g id="b-SLCO1A2"><rect x="458" y="954" width="79" height="36" rx="4" fill="#e1e0ee"/><text class="t tb" x="497.5" y="976.5">SLCO1A2</text></g>
</g>
<g id="nodes-c">
<g id="c-EGF"><rect x="259" y="1089" width="54" height="24" rx="3" fill="#2f72a5"/><text class="t tc" x="286" y="1103.6">EGF</text></g>
<g id="c-HABP2"><rect x="359" y="1083" width="55" height="25" rx="3" fill="#b3c8e1"/><text class="t tc" x="386.5" y="1098.1">HABP2</text></g>
<g id="c-MMP3"><rect x="164" y="1118" width="55" height="25" rx="3" fill="#d3d9eb"/><text class="t tc" x="191.5" y="1133.1">MMP3</text></g>
<g id="c-POSTN"><rect x="454" y="1118" width="54" height="24" rx="3" fill="#2f73a6"/><text class="t tc" x="481" y="1132.6">POSTN</text></g>
<g id="c-MYOCD"><rect x="338" y="1134" width="55" height="25" rx="3" fill="#3578aa"/><text class="t tc" x="365.5" y="1149.1">MYOCD</text></g>
<g id="c-SERPINE1"><rect x="401" y="1174" width="55" height="25" rx="3" fill="#9fbedc"/><text class="t tc" x="428.5" y="1189.1">SERPINE1</text></g>
<g id="c-PTGS2"><rect x="484" y="1170" width="55" height="25" rx="3" fill="#86afd4"/><text class="t tc" x="511.5" y="1185.1">PTGS2</text></g>
<g id="c-BMP4"><rect x="188" y="1183" width="55" height="24" rx="3" fill="#d0d8ea"/><text class="t tc" x="215.5" y="1197.6">BMP4</text></g>
<g id="c-KDM6A"><rect x="127" y="1194" width="55" height="25" rx="3" fill="#e2e1ef"/><text class="t tc" x="154.5" y="1209.1">KDM6A</text></g>
<g id="c-COL1A2"><rect x="260" y="1194" width="55" height="25" rx="3" fill="#b3c8e1"/><text class="t tc" x="287.5" y="1209.1">COL1A2</text></g>
<g id="c-COL1A1"><rect x="336" y="1197" width="54" height="26" rx="3" fill="#4a8abd"/><text class="t tc" x="363" y="1212.6">COL1A1</text></g>
<g id="c-MAPK3"><rect x="463" y="1210" width="55" height="25" rx="3" fill="#e4e3ef"/><text class="t tc" x="490.5" y="1225.1">MAPK3</text></g>
<g id="c-TGFB1"><rect x="554" y="1220" width="55" height="25" rx="3" fill="#b7cbe3"/><text class="t tc" x="581.5" y="1235.1">TGFB1</text></g>
<g id="c-PTGER1"><rect x="387" y="1245" width="55" height="25" rx="3" fill="#a9c3de"/><text class="t tc" x="414.5" y="1260.1">PTGER1</text></g>
<g id="c-GREM1"><rect x="98" y="1257" width="55" height="25" rx="3" fill="#80abd1"/><text class="t tc" x="125.5" y="1272.1">GREM1</text></g>
<g id="c-RUNX2"><rect x="221" y="1252" width="54" height="25" rx="3" fill="#2b6c9e"/><text class="t tc" x="248" y="1267.1">RUNX2</text></g>
<g id="c-COL3A1"><rect x="298" y="1257" width="54" height="25" rx="3" fill="#9fbedb"/><text class="t tc" x="325" y="1272.1">COL3A1</text></g>
<g id="c-TLR4"><rect x="458" y="1287" width="54" height="24" rx="3" fill="#1f6496"/><text class="t tc" x="485" y="1301.6">TLR4</text></g>
<g id="c-EGFR"><rect x="560" y="1290" width="54" height="25" rx="3" fill="#bccce4"/><text class="t tc" x="587" y="1305.1">EGFR</text></g>
<g id="c-ELN"><rect x="185" y="1311" width="55" height="25" rx="3" fill="#c3d1e6"/><text class="t tc" x="212.5" y="1326.1">ELN</text></g>
<g id="c-HAS2"><rect class="red" x="346" y="1324" width="53" height="24" rx="3" fill="#c3d1e6"/><text class="t tc" x="372.5" y="1338.6">HAS2</text></g>
<g id="c-CD44"><rect x="54" y="1329" width="55" height="25" rx="3" fill="#7aa7cf"/><text class="t tc" x="81.5" y="1344.1">CD44</text></g>
<g id="c-PTGIR"><rect x="414" y="1339" width="55" height="25" rx="3" fill="#d0d8ea"/><text class="t tc" x="441.5" y="1354.1">PTGIR</text></g>
<g id="c-LOX"><rect x="488" y="1340" width="54" height="25" rx="3" fill="#d0d8ea"/><text class="t tc" x="515" y="1355.1">LOX</text></g>
<g id="c-IGFLR1"><rect x="595" y="1356" width="55" height="25" rx="3" fill="#dedded"/><text class="t tc" x="622.5" y="1371.1">IGFLR1</text></g>
<g id="c-KLC3"><rect x="132" y="1366" width="55" height="25" rx="3" fill="#8cb3d6"/><text class="t tc" x="159.5" y="1381.1">KLC3</text></g>
<g id="c-NID2"><rect x="241" y="1364" width="55" height="25" rx="3" fill="#e4e3ef"/><text class="t tc" x="268.5" y="1379.1">NID2</text></g>
<g id="c-HAS1"><rect class="blk" x="346" y="1369" width="53" height="24" rx="3" fill="#c3d1e6"/><text class="t tc" x="372.5" y="1383.6">HAS1</text></g>
<g id="c-IGF2"><rect x="444" y="1395" width="55" height="25" rx="3" fill="#5e9ac6"/><text class="t tc" x="471.5" y="1410.1">IGF2</text></g>
<g id="c-ADAMTS1"><rect x="530" y="1402" width="56" height="25" rx="3" fill="#dedded"/><text class="t tc" x="558" y="1417.1">ADAMTS1</text></g>
<g id="c-IFIT3"><rect x="608" y="1398" width="55" height="25" rx="3" fill="#a3c0dd"/><text class="t tc" x="635.5" y="1413.1">IFIT3</text></g>
<g id="c-NID1"><rect x="186" y="1405" width="55" height="25" rx="3" fill="#dedded"/><text class="t tc" x="213.5" y="1420.1">NID1</text></g>
<g id="c-LUM"><rect x="81" y="1411" width="55" height="25" rx="3" fill="#c3d1e6"/><text class="t tc" x="108.5" y="1426.1">LUM</text></g>
<g id="c-ACAN"><rect x="379" y="1433" width="55" height="25" rx="3" fill="#3d7fb2"/><text class="t tc" x="406.5" y="1448.1">ACAN</text></g>
<g id="c-DCN"><rect x="297" y="1442" width="54" height="25" rx="3" fill="#6ea2cc"/><text class="t tc" x="324" y="1457.1">DCN</text></g>
<g id="c-MMP1"><rect x="151" y="1447" width="55" height="25" rx="3" fill="#c8d4e8"/><text class="t tc" x="178.5" y="1462.1">MMP1</text></g>
<g id="c-MYL9"><rect x="537" y="1456" width="54" height="25" rx="3" fill="#cdd6e8"/><text class="t tc" x="564" y="1471.1">MYL9</text></g>
<g id="c-FN1"><rect x="453" y="1462" width="55" height="25" rx="3" fill="#7aa7cf"/><text class="t tc" x="480.5" y="1477.1">FN1</text></g>
<g id="c-CEMIP"><rect x="282" y="1484" width="55" height="24" rx="3" fill="#c3d1e6"/><text class="t tc" x="309.5" y="1498.6">CEMIP</text></g>
<g id="c-IFIT1B"><rect x="385" y="1496" width="54" height="25" rx="3" fill="#bccce4"/><text class="t tc" x="412" y="1511.1">IFIT1B</text></g>
<g id="c-HAPLN1"><rect x="169" y="1502" width="55" height="25" rx="3" fill="#dedded"/><text class="t tc" x="196.5" y="1517.1">HAPLN1</text></g>
</g>
</svg>
